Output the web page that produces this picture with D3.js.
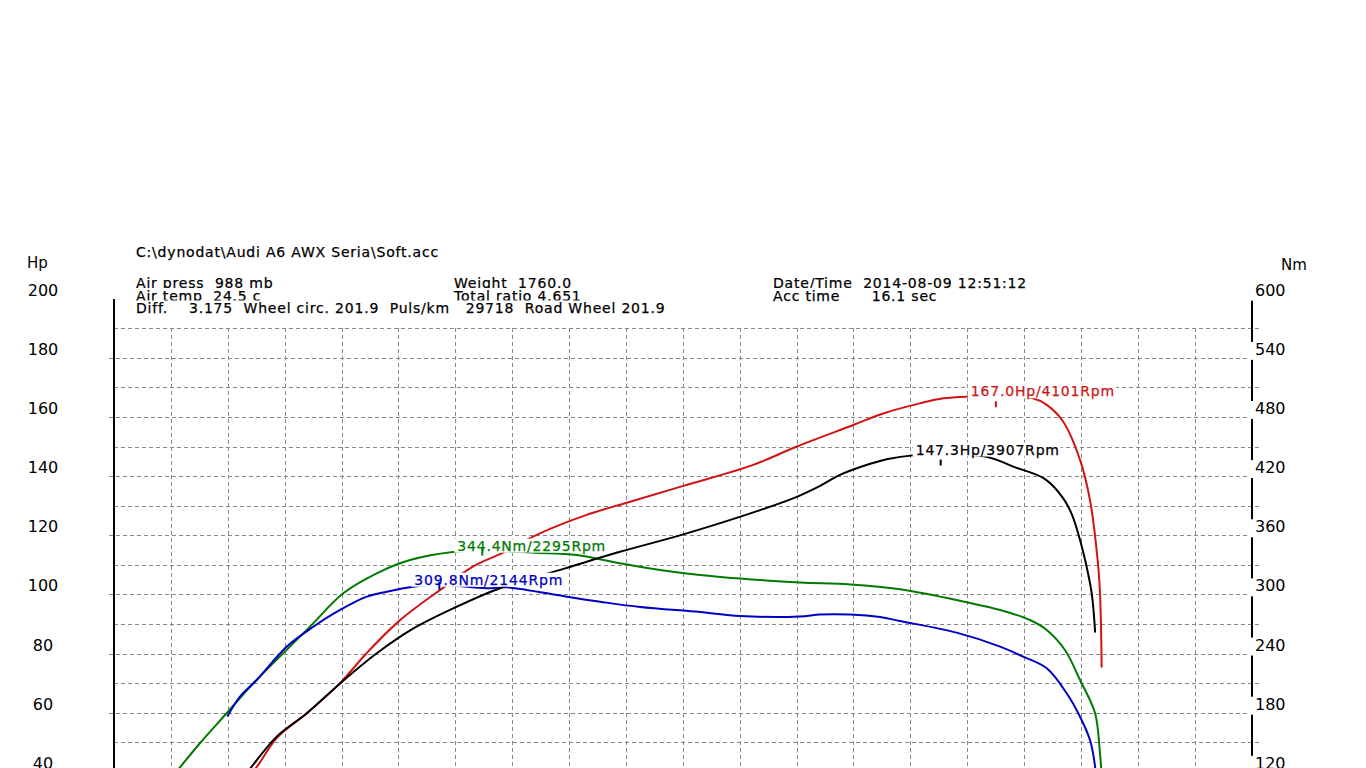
<!DOCTYPE html>
<html><head><meta charset="utf-8">
<script src="https://cdn.jsdelivr.net/npm/d3@7"></script>
<style>
html,body{margin:0;padding:0;background:#fff;overflow:hidden}
svg{display:block}
text{font-family:"DejaVu Sans",sans-serif;white-space:pre}
</style></head><body>
<svg id="c" width="1366" height="768"></svg>
<script>
// ---------- data ----------
const headerTitle = "C:\\dynodat\\Audi A6 AWX Seria\\Soft.acc";
const headerCol1 = ["Air press  988 mb", "Air temp  24.5 c", "Diff.    3.175  Wheel circ. 201.9  Puls/km   29718  Road Wheel 201.9"];
const headerCol2 = ["Weight  1760.0", "Total ratio 4.651"];
const headerCol3 = ["Date/Time  2014-08-09 12:51:12", "Acc time      16.1 sec"];

const hpTicks = [200, 180, 160, 140, 120, 100, 80, 60, 40, 20, 0];
const nmTicks = [600, 540, 480, 420, 360, 300, 240, 180, 120, 60, 0];
const leftUnit = "Hp";
const rightUnit = "Nm";

// Power curves (Hp, left axis)
const redRpm = [1461, 1502, 1570, 1678, 1795, 1889, 2006, 2157, 2262, 2363, 2492, 2662, 2803, 3002, 3248, 3401, 3600, 3705, 3834, 3916, 4004, 4101, 4228, 4280, 4338, 4397, 4432, 4459, 4467, 4471, 4473];
const redHp  = [37.9, 41.7, 51.2, 59.8, 70.0, 80.2, 91.3, 102.2, 109.4, 113.9, 120.4, 126.9, 131.0, 136.7, 143.8, 150.0, 157.3, 161.2, 164.6, 166.3, 166.9, 167.0, 166.4, 164.1, 158.4, 145.5, 131.9, 111.6, 100.9, 88.5, 75.5];

const blackRpm = [1454, 1482, 1572, 1678, 1795, 1924, 2053, 2193, 2357, 2586, 2779, 3002, 3272, 3401, 3483, 3553, 3635, 3717, 3817, 3907, 4075, 4162, 4274, 4338, 4369, 4397, 4415, 4438, 4450];
const blackHp  = [38.2, 41.5, 51.9, 59.8, 69.9, 80.1, 88.5, 95.3, 102.1, 108.8, 114.4, 120.3, 128.5, 133.0, 136.7, 140.4, 143.4, 145.7, 147.1, 147.3, 146.4, 143.2, 139.0, 132.5, 126.9, 118.4, 111.6, 100.4, 87.4];

// Torque curves (Nm, right axis)
const greenRpm = [1204, 1232, 1302, 1396, 1490, 1595, 1689, 1806, 1924, 2041, 2199, 2295, 2480, 2627, 2779, 2920, 3061, 3201, 3412, 3588, 3764, 3999, 4116, 4221, 4280, 4344, 4397, 4450, 4467, 4471, 4473];
const greenNm  = [114.8, 124.6, 149.0, 179.4, 209.8, 240.3, 267.2, 301.1, 321.4, 334.9, 343.3, 344.4, 342.3, 340.0, 331.6, 324.8, 319.7, 316.1, 312.1, 310.1, 305.2, 292.0, 284.2, 274.0, 263.9, 243.6, 213.2, 179.4, 139.1, 124.9, 111.7];

const blueRpm = [1400, 1443, 1502, 1607, 1701, 1795, 1889, 1959, 2053, 2144, 2311, 2381, 2592, 2709, 2850, 3061, 3201, 3412, 3483, 3588, 3694, 3764, 3963, 4116, 4197, 4280, 4350, 4397, 4432, 4450, 4453];
const blueNm  = [176.9, 196.2, 213.2, 247.0, 267.2, 284.2, 297.7, 302.7, 307.8, 309.8, 306.2, 307.2, 297.7, 292.6, 287.2, 282.1, 278.1, 277.6, 279.6, 279.6, 277.1, 273.0, 261.2, 247.0, 236.8, 225.0, 199.7, 175.9, 152.3, 125.2, 111.7];

// Peak annotations
const peakLabels = ["167.0Hp/4101Rpm", "147.3Hp/3907Rpm", "344.4Nm/2295Rpm", "309.8Nm/2144Rpm"];
const peakRpm = [4101, 3907, 2295, 2144];
const peakVal = [167.0, 147.3, 344.4, 309.8];
const peakAxis = ["hp", "hp", "nm", "nm"];

// ---------- drawing ----------
const svg = d3.select("#c");
const COL = {red: "#d01414", black: "#000000", green: "#007a00", blue: "#0000c0"};

const x = d3.scaleLinear().domain([1000, 5000]).range([114, 1251.5]);
const yHp = d3.scaleLinear().domain([0, 200]).range([890.1, 298.7]);
const yNm = d3.scaleLinear().domain([0, 600]).range([890.1, 298.7]);

const FONT = 14, LS = 0.8;

function bgText(g, tx, base, str, opts) {
  opts = opts || {};
  const fs = opts.fs || FONT;
  const fill = opts.fill || "#000";
  const t = g.append("text").attr("x", tx).attr("y", base)
    .attr("font-size", fs).attr("letter-spacing", opts.ls === undefined ? LS : opts.ls)
    .attr("fill", fill).attr("stroke", fill).attr("stroke-width", opts.sw === undefined ? 0.25 : opts.sw)
    .attr("text-anchor", opts.anchor || "start").text(str);
  const bb = t.node().getBBox();
  const top = opts.top !== undefined ? opts.top : 12.5;
  const bot = opts.bot !== undefined ? opts.bot : 3;
  const padL = opts.padL !== undefined ? opts.padL : 1;
  const x0 = opts.x0 !== undefined ? opts.x0 : bb.x - padL;
  g.insert("rect", function(){ return t.node(); })
    .attr("x", x0).attr("y", base - top)
    .attr("width", bb.x + bb.width + 1 - x0).attr("height", top + bot)
    .attr("fill", "#fff");
  return t;
}

// Header
const header = svg.append("g");
header.append("text").attr("x", 136).attr("y", 257).attr("font-size", FONT)
  .attr("letter-spacing", LS).attr("stroke", "#000").attr("stroke-width", 0.25).text(headerTitle);

const rowBase = [288, 300.5, 313];
const colX = [136, 454, 773];
for (let r = 0; r < 3; r++) {
  [headerCol1, headerCol2, headerCol3].forEach((col, c) => {
    if (col[r] !== undefined) bgText(header, colX[c], rowBase[r], col[r]);
  });
}

// Grid
const grid = svg.append("g").attr("stroke", "#888").attr("stroke-width", 1)
  .attr("stroke-dasharray", "4,3").attr("shape-rendering", "crispEdges");
d3.range(1200, 5000, 200).forEach(r => {
  grid.append("line").attr("x1", Math.round(x(r)) + 0.5).attr("x2", Math.round(x(r)) + 0.5)
    .attr("y1", yHp(190)).attr("y2", yHp(0));
});
d3.range(0, 200, 10).forEach(v => {
  const yy = Math.round(yHp(v)) + 0.5;
  grid.append("line").attr("x1", v % 20 === 0 ? 109 : 114).attr("x2", 1262)
    .attr("y1", yy).attr("y2", yy);
});

// Axis lines
const axes = svg.append("g").attr("stroke", "#000").attr("stroke-width", 2).attr("shape-rendering", "crispEdges");
axes.append("line").attr("x1", x(1000)).attr("x2", x(1000)).attr("y1", yHp(200)).attr("y2", yHp(0));
axes.append("line").attr("x1", x(5000)).attr("x2", x(5000)).attr("y1", yHp(200)).attr("y2", yHp(0));

// Curves
const curves = svg.append("g").attr("fill", "none").attr("stroke-width", 2)
  .attr("stroke-linejoin", "round").attr("stroke-linecap", "round");
function drawCurve(rpm, vals, yScale, color) {
  const pts = rpm.map((r, i) => [x(r), yScale(vals[i])]);
  curves.append("path").attr("d", d3.line().curve(d3.curveCatmullRom.alpha(0.5))(pts))
    .attr("stroke", color);
}
drawCurve(greenRpm, greenNm, yNm, COL.green);
drawCurve(blueRpm, blueNm, yNm, COL.blue);
drawCurve(redRpm, redHp, yHp, COL.red);
drawCurve(blackRpm, blackHp, yHp, COL.black);

// Axis labels
const lab = svg.append("g");
lab.append("text").attr("x", 27).attr("y", 267.5).attr("font-size", 15).text(leftUnit);
lab.append("text").attr("x", 1281).attr("y", 270).attr("font-size", 15).text(rightUnit);
hpTicks.forEach(v => {
  lab.append("text").attr("x", 43).attr("y", yHp(v) - 3).attr("font-size", 16)
    .attr("text-anchor", "middle").text(v);
});
nmTicks.forEach(v => {
  bgText(lab, 1255, yNm(v) - 3, String(v), {fs: 16, ls: 0, sw: 0, top: 13, bot: 5, x0: 1250});
});

// Peak labels
const peaks = svg.append("g");
const pColors = [COL.red, COL.black, COL.green, COL.blue];
peakLabels.forEach((s, i) => {
  const ys = peakAxis[i] === "hp" ? yHp : yNm;
  const px = x(peakRpm[i]), py = ys(peakVal[i]);
  bgText(peaks, px - 25, py, s, {fill: pColors[i], top: 12, bot: 2, padL: 3});
});
peakLabels.forEach((s, i) => {
  const ys = peakAxis[i] === "hp" ? yHp : yNm;
  const px = x(peakRpm[i]), py = ys(peakVal[i]);
  const a = peakAxis[i] === "hp" ? 5 : -3, b = peakAxis[i] === "hp" ? 11 : 5;
  peaks.append("line").attr("x1", px).attr("x2", px).attr("y1", py + a).attr("y2", py + b)
    .attr("stroke", pColors[i]).attr("stroke-width", 2);
});
</script>
</body></html>
